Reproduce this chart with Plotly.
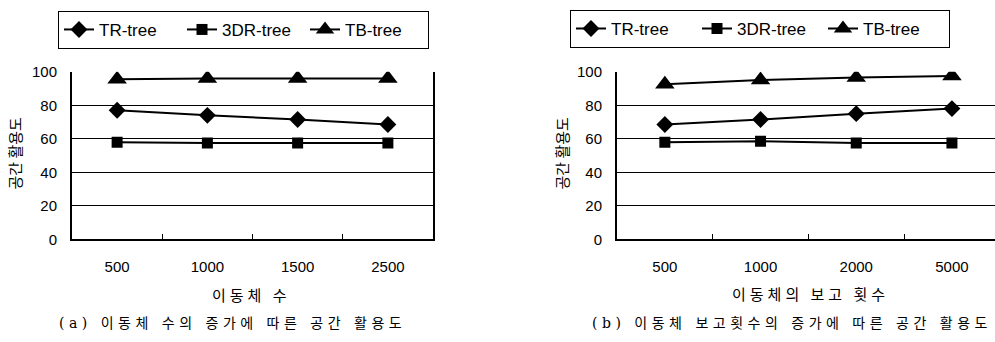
import plotly.graph_objects as go

# Space utilisation (%) of three index structures
series_names = ["TR-tree", "3DR-tree", "TB-tree"]
markers = ["diamond", "square", "triangle-up"]
marker_sizes = [13, 11, 17]

# (a) vs. number of moving objects
objects_labels = ["500", "1000", "1500", "2500"]
objects_tr = [77, 74, 71.5, 68.5]
objects_3dr = [58, 57.5, 57.5, 57.5]
objects_tb = [95.5, 96, 96, 96]

# (b) vs. number of position reports
reports_labels = ["500", "1000", "2000", "5000"]
reports_tr = [68.5, 71.5, 75, 78]
reports_3dr = [58, 58.5, 57.5, 57.5]
reports_tb = [92.5, 95, 96.5, 97.5]

y_ticks = [0, 20, 40, 60, 80, 100]

W, H = 995, 342
KR = "Noto Sans CJK KR"
LAT = "Liberation Sans, Arial, " + KR

fig = go.Figure()

panels = [
    (objects_labels, [objects_tr, objects_3dr, objects_tb], "x", "y", "legend"),
    (reports_labels, [reports_tr, reports_3dr, reports_tb], "x2", "y2", "legend2"),
]
for labels, values, xa, ya, lg in panels:
    for name, sym, size, vals in zip(series_names, markers, marker_sizes, values):
        fig.add_trace(go.Scatter(
            x=labels, y=vals, name=name, xaxis=xa, yaxis=ya, legend=lg,
            mode="lines+markers",
            line=dict(color="black", width=2),
            marker=dict(symbol=sym, size=size, color="black"),
        ))

def px_x(p):
    return p / W

def px_y(p):
    return 1 - p / H

y_dom = [px_y(242.5), px_y(66)]

xcommon = dict(
    type="category", showline=True, linecolor="black", linewidth=2,
    ticks="inside", tickson="boundaries", ticklen=5, tickcolor="black", tickwidth=1,
    showgrid=False, zeroline=False, fixedrange=True,
    tickfont=dict(family=LAT, size=15, color="black"), ticklabelstandoff=13,
)
ycommon = dict(
    range=[0, 100], tickvals=y_ticks, showline=True, linecolor="black", linewidth=2,
    showgrid=True, gridcolor="black", gridwidth=1, zeroline=False, ticks="",
    tickfont=dict(family=LAT, size=15, color="black"), ticklabelstandoff=10,
    fixedrange=True,
)

legend_style = dict(
    orientation="h", xanchor="left", yanchor="top",
    bordercolor="black", borderwidth=1, bgcolor="white",
    font=dict(family=LAT, size=17, color="black"),
    itemwidth=30, tracegroupgap=0, entrywidthmode="pixels",
)

fig.update_layout(
    width=W, height=H, margin=dict(l=0, r=0, t=0, b=0),
    paper_bgcolor="white", plot_bgcolor="white",
    xaxis=dict(domain=[px_x(72), px_x(433)], range=[-0.5, 3.5], anchor="y", **xcommon),
    yaxis=dict(domain=y_dom, anchor="x", mirror=True, **ycommon),
    xaxis2=dict(domain=[px_x(617), 1.0], range=[-0.5, 3.45], anchor="y2", **xcommon),
    yaxis2=dict(domain=y_dom, anchor="x2", **ycommon),
    legend=dict(x=px_x(58), y=px_y(2), entrywidth=78, **legend_style),
    legend2=dict(x=px_x(570), y=px_y(1), entrywidth=81, **legend_style),
    showlegend=True,
)

def note(text, x, y, size=14, angle=0, family=KR, spacing=0):
    if spacing:
        text = f'<span style="letter-spacing:{spacing}px">{text}</span>'
    fig.add_annotation(
        text=text, x=px_x(x), y=px_y(y), xref="paper", yref="paper",
        showarrow=False, textangle=angle, xanchor="center", yanchor="middle",
        font=dict(family=family, size=size, color="black"),
    )

# axis titles
note("공간 활용도", 14, 152, size=15, angle=-90)
note("공간 활용도", 561, 152, size=15, angle=-90)
note("이동체 수", 251, 300, size=15, spacing=4)
note("이동체의 보고 횟수", 810, 299, size=15, spacing=4)

# panel captions
SERIF = "DejaVu Serif, " + KR
note("(a) 이동체 수의 증가에 따른 공간 활용도", 232, 330, family=SERIF, spacing=4.5)
note("(b) 이동체 보고횟수의 증가에 따른 공간 활용도", 792, 330, family=SERIF, spacing=4.5)

fig.write_html("out.html")
